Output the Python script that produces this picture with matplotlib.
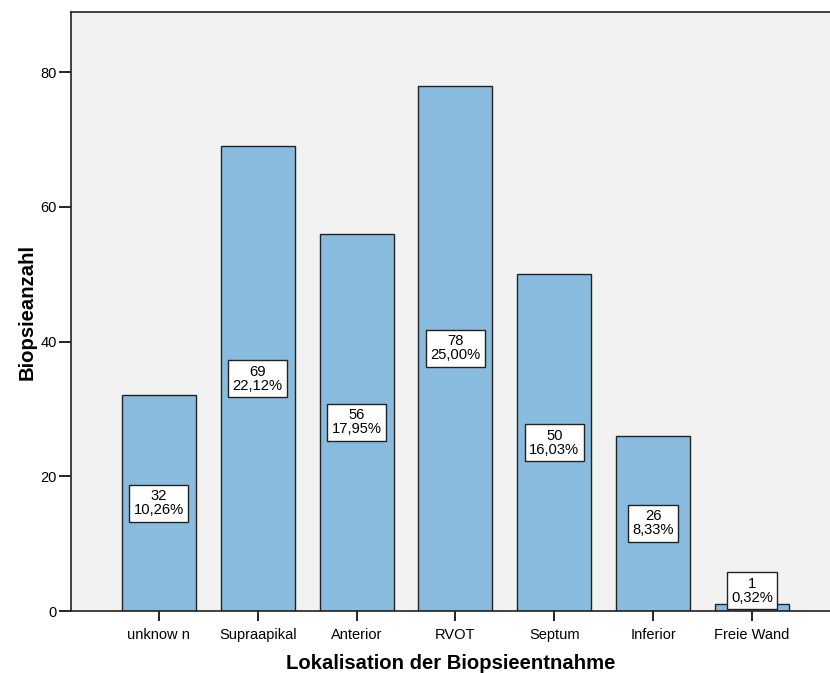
import matplotlib
matplotlib.use("Agg")
import matplotlib.pyplot as plt
import numpy as np

categories = ["unknow n", "Supraapikal", "Anterior", "RVOT", "Septum", "Inferior", "Freie Wand"]
counts = [32, 69, 56, 78, 50, 26, 1]
percent_labels = ["10,26%", "22,12%", "17,95%", "25,00%", "16,03%", "8,33%", "0,32%"]

plt.rcParams['font.family'] = ['Liberation Sans', 'DejaVu Sans']

fig = plt.figure(figsize=(8.3, 6.73), dpi=100)
ax = fig.add_axes([0.0855, 0.092, 0.9145, 0.890])
ax.set_facecolor("#F2F2F2")

x = np.arange(len(categories))
ax.bar(x, counts, width=0.75, color="#88BBDD", edgecolor="#222222", linewidth=1.0, zorder=2)

# value boxes sit at mid-bar height, kept above the axis for tiny bars
for xi, c, p in zip(x, counts, percent_labels):
    ypos = max(c / 2, 3.0)
    ax.text(xi, ypos, f"{c}\n{p}", ha="center", va="center", fontsize=10.6, linespacing=1.0,
            zorder=3,
            bbox=dict(boxstyle="square,pad=0.3", facecolor="white", edgecolor="#222222", linewidth=1.0))

ax.set_xlim(-0.89, 6.79)
ax.set_ylim(0, 88.9)
ax.set_yticks([0, 20, 40, 60, 80])
ax.set_xticks(x)
ax.set_xticklabels(categories)
ax.tick_params(axis="y", direction="out", length=9, width=1.2, labelsize=10.5, pad=1)
ax.tick_params(axis="x", direction="out", length=7, width=1.2, labelsize=10.5, pad=5)

for s in ["left", "bottom", "top"]:
    ax.spines[s].set_linewidth(1.2)
    ax.spines[s].set_color("#222222")
ax.spines["right"].set_visible(False)

ax.set_xlabel("Lokalisation der Biopsieentnahme", fontsize=14.6, fontweight="bold", labelpad=9)
ax.set_ylabel("Biopsieanzahl", fontsize=14.6, fontweight="bold", labelpad=3)

fig.savefig("out.png", dpi=100)
